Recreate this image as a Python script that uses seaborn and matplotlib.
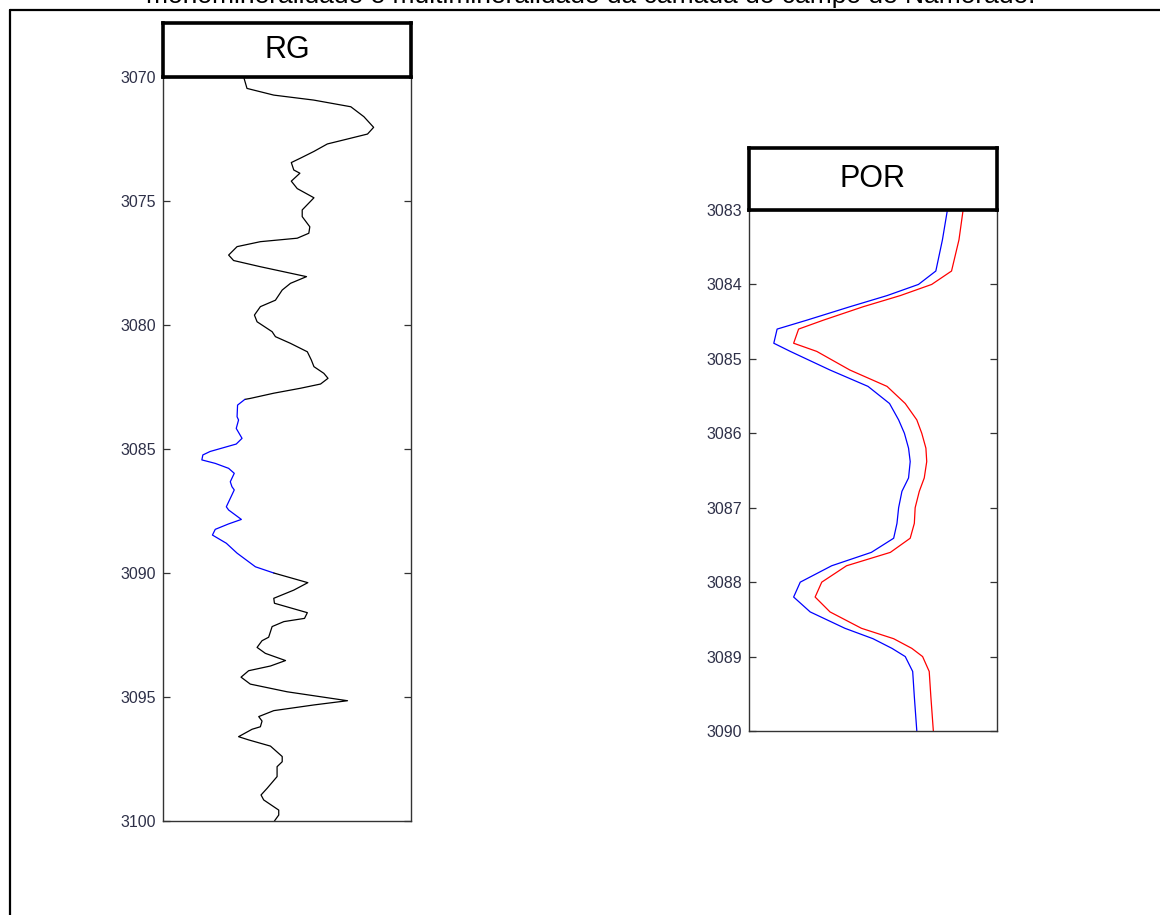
import matplotlib
matplotlib.use("Agg")
import matplotlib.pyplot as plt
import seaborn as sns
import pandas as pd
from matplotlib.lines import Line2D

# ---------------- data ----------------
rg_depth = [3070.0, 3070.46, 3070.73, 3070.93, 3071.2, 3071.6, 3072.03, 3072.3, 3072.5, 3072.7,
            3073.0, 3073.27, 3073.45, 3073.75, 3073.88, 3074.2, 3074.5, 3074.87, 3075.36, 3075.63,
            3076.04, 3076.3, 3076.5, 3076.64, 3076.84, 3077.18, 3077.4, 3077.65, 3078.05, 3078.32,
            3078.59, 3079.0, 3079.26, 3079.6, 3079.87, 3080.27, 3080.47, 3080.74, 3081.08, 3081.41,
            3081.68, 3081.95, 3082.15, 3082.38, 3082.55, 3082.75, 3082.96, 3083.0, 3083.23, 3083.7,
            3083.83, 3084.17, 3084.57, 3084.8, 3085.1, 3085.24, 3085.44, 3085.58, 3085.78, 3085.98,
            3086.32, 3086.52, 3086.65, 3087.33, 3087.46, 3087.84, 3088.02, 3088.24, 3088.47, 3088.8,
            3089.2, 3089.75, 3090.0, 3090.39, 3090.69, 3091.02, 3091.22, 3091.6, 3091.83, 3091.96,
            3092.16, 3092.59, 3092.73, 3093.0, 3093.24, 3093.53, 3093.75, 3093.94, 3094.2, 3094.48,
            3094.79, 3095.15, 3095.32, 3095.55, 3095.79, 3095.97, 3096.2, 3096.3, 3096.6, 3096.73,
            3096.98, 3097.4, 3097.61, 3097.81, 3098.21, 3098.68, 3098.95, 3099.15, 3099.56, 3099.76,
            3100.0]
rg_value = [48.8, 50.8, 67.0, 91.1, 113.6, 121.5, 127.4, 123.7, 111.6, 99.4,
            91.3, 83.2, 77.6, 79.1, 82.8, 77.6, 81.2, 91.3, 84.2, 84.2,
            88.8, 88.2, 81.2, 58.9, 44.8, 39.7, 42.7, 58.9, 86.8, 77.1,
            72.1, 68.0, 58.9, 55.3, 56.9, 66.0, 68.0, 77.1, 87.3, 89.7,
            91.3, 97.3, 99.8, 95.3, 83.2, 67.0, 52.8, 49.5, 45.1, 44.8,
            45.7, 44.3, 47.8, 44.3, 28.5, 24.1, 23.5, 31.6, 39.7, 43.1,
            40.7, 41.7, 43.1, 38.3, 39.7, 47.4, 39.7, 31.6, 29.9, 38.3,
            44.8, 55.9, 67.0, 87.6, 79.1, 67.0, 67.4, 87.3, 85.6, 73.1,
            66.0, 63.9, 59.9, 56.9, 61.9, 74.1, 65.0, 51.8, 47.2, 52.8,
            75.1, 111.6, 91.3, 67.0, 57.9, 59.9, 58.9, 53.9, 45.7, 51.8,
            65.0, 72.1, 72.1, 69.0, 69.0, 63.0, 59.3, 60.9, 70.0, 70.0,
            67.4]
reservoir_top = 3083.0
reservoir_base = 3090.0

por_depth = [3083.0, 3083.4, 3083.82, 3084.0, 3084.15, 3084.3, 3084.48, 3084.6, 3084.79, 3084.9,
             3085.15, 3085.37, 3085.6, 3085.82, 3086.0, 3086.2, 3086.38, 3086.6, 3086.78, 3087.0,
             3087.21, 3087.41, 3087.6, 3087.78, 3088.0, 3088.2, 3088.4, 3088.62, 3088.76, 3088.89,
             3089.0, 3089.2, 3089.54, 3090.0]
por_mono = [0.240, 0.234, 0.226, 0.205, 0.167, 0.122, 0.070, 0.034, 0.030, 0.050,
            0.098, 0.144, 0.170, 0.181, 0.188, 0.193, 0.195, 0.193, 0.185, 0.181,
            0.179, 0.175, 0.148, 0.100, 0.062, 0.054, 0.074, 0.116, 0.150, 0.173,
            0.189, 0.198, 0.200, 0.203]
por_multi = [0.259, 0.254, 0.245, 0.221, 0.183, 0.138, 0.090, 0.060, 0.054, 0.082,
             0.122, 0.167, 0.189, 0.203, 0.209, 0.214, 0.215, 0.212, 0.206, 0.201,
             0.200, 0.195, 0.171, 0.118, 0.088, 0.080, 0.098, 0.136, 0.175, 0.197,
             0.210, 0.218, 0.220, 0.223]

rg_ticks = [3070, 3075, 3080, 3085, 3090, 3095, 3100]
por_ticks = [3083, 3084, 3085, 3086, 3087, 3088, 3089, 3090]
caption = "monomineralidade e multimineralidade da camada do campo de Namorado."

# ---------------- style ----------------
sns.set_style("white")
plt.rcParams["font.family"] = ["Liberation Sans", "DejaVu Sans"]

W, H = 1160, 915
fig = plt.figure(figsize=(W / 100, H / 100), dpi=100)


def rect(x0, y0, x1, y1):
    return [x0 / W, 1 - y1 / H, (x1 - x0) / W, (y1 - y0) / H]


def style_track(ax, ticks, lim):
    ax.set_ylim(lim[1], lim[0])
    ax.set_yticks(ticks)
    ax.set_yticklabels([str(t) for t in ticks])
    ax.set_xticks([])
    ax.set_xlabel("")
    ax.set_ylabel("")
    ax.tick_params(axis="y", direction="in", left=True, right=True, length=5,
                   width=0.9, color="#333333", labelcolor="#2e3048",
                   labelsize=11.5, pad=5)
    for s in ax.spines.values():
        s.set_color("#333333")
        s.set_linewidth(1.0)


def title_box(x0, y0, x1, y1, label):
    tb = fig.add_axes(rect(x0, y0, x1, y1))
    tb.set_xticks([])
    tb.set_yticks([])
    for s in tb.spines.values():
        s.set_color("black")
        s.set_linewidth(2.6)
    tb.text(0.5, 0.5, label, ha="center", va="center", fontsize=22,
            color="black", transform=tb.transAxes)


# ---------------- RG track ----------------
rg = pd.DataFrame({"depth": rg_depth, "value": rg_value})
upper = rg[rg.depth <= reservoir_top]
middle = rg[(rg.depth >= reservoir_top) & (rg.depth <= reservoir_base)]
lower = rg[rg.depth >= reservoir_base]

ax1 = fig.add_axes(rect(163, 77, 411, 821))
for seg, col in [(upper, "black"), (middle, "#0000ff"), (lower, "black")]:
    sns.lineplot(data=seg, x="value", y="depth", orient="y", estimator=None,
                 color=col, lw=0.9, ax=ax1)
ax1.set_xlim(0, 150)
style_track(ax1, rg_ticks, (3070, 3100))
title_box(163, 23, 411, 77, "RG")

# ---------------- POR track ----------------
por = pd.DataFrame({"depth": por_depth, "mono": por_mono, "multi": por_multi})
ax2 = fig.add_axes(rect(749, 210, 997, 731))
sns.lineplot(data=por, x="mono", y="depth", orient="y", estimator=None,
             color="#0000ff", lw=0.9, ax=ax2)
sns.lineplot(data=por, x="multi", y="depth", orient="y", estimator=None,
             color="#ff0000", lw=0.9, ax=ax2)
ax2.set_xlim(0, 0.3)
style_track(ax2, por_ticks, (3083, 3090))
title_box(749, 148, 997, 210, "POR")

# ---------------- page frame & cut-off caption ----------------
fig.text(591 / W, 1 - 3.5 / H, caption, ha="center", va="baseline",
         fontsize=19, color="black")
fig.add_artist(Line2D([9.5 / W, 1.0], [1 - 9.5 / H, 1 - 9.5 / H],
                      transform=fig.transFigure, color="black", lw=1.6))
fig.add_artist(Line2D([9.5 / W, 9.5 / W], [0.0, 1 - 9.5 / H],
                      transform=fig.transFigure, color="black", lw=1.6))

fig.savefig("out.png", dpi=100, facecolor="white")
